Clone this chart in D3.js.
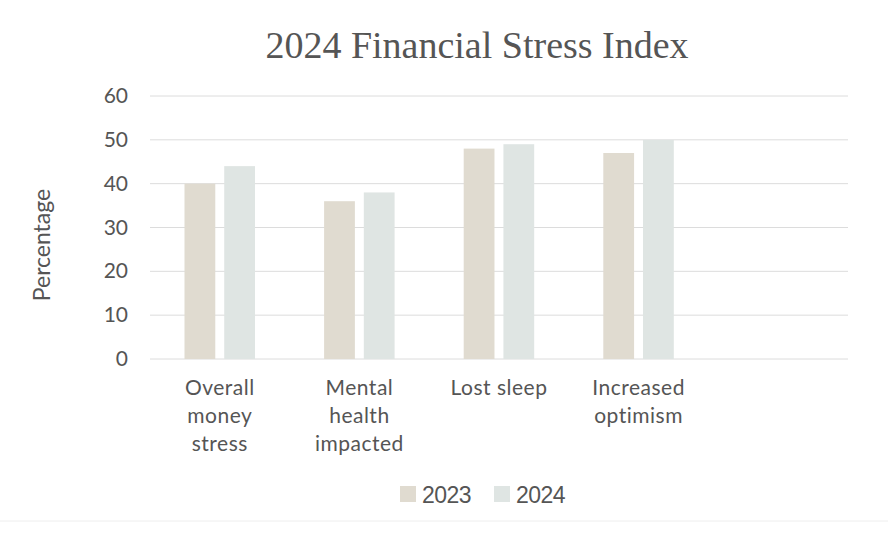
<!DOCTYPE html>
<html><head><meta charset="utf-8">
<script src="https://cdn.jsdelivr.net/npm/d3@7"></script>
<style>body{margin:0;background:#fff}</style></head>
<body><svg id="c" width="888" height="546"></svg>
<script>
const categories=[["Overall","money","stress"],["Mental","health","impacted"],["Lost sleep"],["Increased","optimism"],[""]];
const series=["2023","2024"];
const values2023=[40,36,48,47,null];
const values2024=[44,38,49,50,null];
const yTicks=[0,10,20,30,40,50,60];
const colors=["#e0dbd0","#dfe5e3"];
const svg=d3.select("#c");
const x=d3.scaleBand().domain(d3.range(5)).range([150,848]);
const y=d3.scaleLinear().domain([0,60]).range([359,96]);
svg.append("text").attr("x",477).attr("y",58).attr("text-anchor","middle")
 .attr("font-family","Liberation Serif").attr("font-size",38).attr("fill","#555").text("2024 Financial Stress Index");
svg.selectAll(".g").data(yTicks).join("line").attr("x1",150).attr("x2",848)
 .attr("y1",d=>y(d)).attr("y2",d=>y(d)).attr("stroke","#dcdcdc").attr("stroke-width",1);
svg.selectAll(".yt").data(yTicks).join("text").attr("x",128).attr("y",d=>y(d)+7).attr("text-anchor","end")
 .attr("font-family","Lato").attr("font-size",21).attr("fill","#555").text(d=>d);
svg.append("text").attr("transform","translate(50,245) rotate(-90)").attr("text-anchor","middle")
 .attr("font-family","Lato").attr("font-size",23).attr("fill","#555").text("Percentage");
const x1=d3.scaleBand().domain(series).range([34.5,105]).paddingInner(0.225);
[values2023,values2024].forEach((vals,si)=>{
 svg.selectAll(".b"+si).data(vals.map((v,i)=>({v,i})).filter(d=>d.v!=null)).join("rect")
  .attr("x",d=>x(d.i)+x1(series[si])).attr("width",x1.bandwidth())
  .attr("y",d=>y(d.v)).attr("height",d=>y(0)-y(d.v)).attr("fill",colors[si]);
});
categories.forEach((lines,i)=>{
 lines.forEach((l,j)=>svg.append("text").attr("x",x(i)+x.bandwidth()/2).attr("y",395+j*28)
  .attr("text-anchor","middle").attr("font-family","Lato").attr("font-size",21).attr("fill","#555").attr("letter-spacing",0.5).text(l));
});
series.forEach((s,i)=>{
 const lx=400+i*94;
 svg.append("rect").attr("x",lx).attr("y",486).attr("width",16).attr("height",16).attr("fill",colors[i]);
 svg.append("text").attr("x",lx+22).attr("y",503).attr("font-family","Liberation Sans Narrow, Liberation Sans").attr("font-size",23).attr("fill","#555").attr("letter-spacing",-0.5).text(s);
});
svg.append("line").attr("x1",0).attr("x2",888).attr("y1",521).attr("y2",521).attr("stroke","#eee");
</script></body></html>
